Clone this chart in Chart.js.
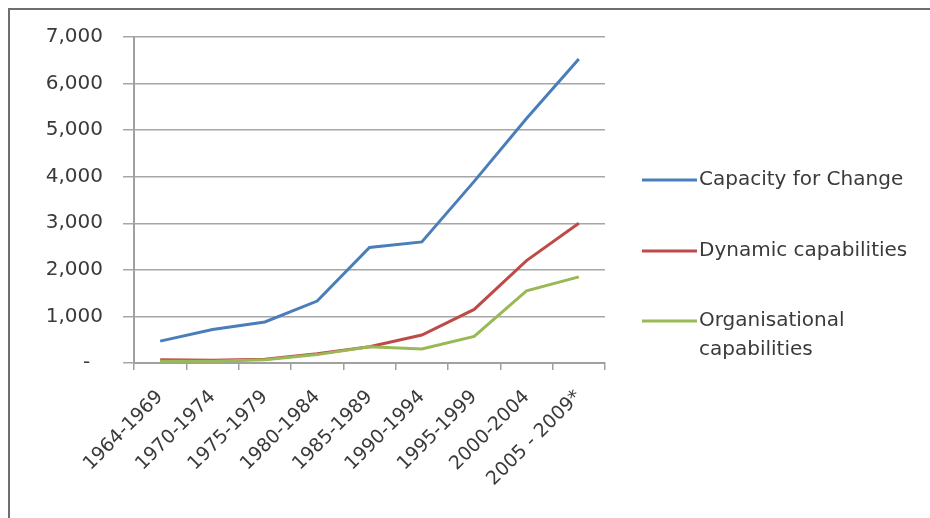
<!DOCTYPE html>
<html>
<head>
<meta charset="utf-8">
<script src="https://cdn.jsdelivr.net/npm/chart.js@4.4.1/dist/chart.umd.min.js"></script>
<style>
  html, body { margin: 0; padding: 0; background: #fff; overflow: hidden; }
  canvas { display: block; }
</style>
</head>
<body>
<canvas id="lineChart" width="930" height="518"></canvas>
<script>
"use strict";

var periods = ['1964-1969', '1970-1974', '1975-1979', '1980-1984', '1985-1989',
	'1990-1994', '1995-1999', '2000-2004', '2005 - 2009*'];
var capacityForChange = [470, 720, 880, 1330, 2480, 2600, 3900, 5250, 6530];
var dynamicCapabilities = [70, 60, 80, 200, 350, 600, 1150, 2200, 3000];
var organisationalCapabilities = [40, 40, 70, 180, 350, 300, 570, 1550, 1850];
var yTicks = [0, 1000, 2000, 3000, 4000, 5000, 6000, 7000];

var seriesNames = ['Capacity for Change', 'Dynamic capabilities', ['Organisational', 'capabilities']];
var lineColors = ['#4a7ebb', '#be4b48', '#98b954'];

var fontFamily = "'DejaVu Sans', 'Open Sans', sans-serif";
var textColor = '#3a3a3a';

// white page + the top/left edge of the pasted picture frame
var pageFrame = {
	id: 'pageFrame',
	beforeDraw: function (chart) {
		var ctx = chart.ctx;
		ctx.save();
		ctx.fillStyle = '#fff';
		ctx.fillRect(0, 0, chart.width, chart.height);
		ctx.strokeStyle = '#6e6e6e';
		ctx.lineWidth = 2;
		ctx.beginPath();
		ctx.moveTo(9, chart.height);
		ctx.lineTo(9, 9);
		ctx.lineTo(chart.width, 9);
		ctx.stroke();
		ctx.restore();
	}
};

// legend drawn by hand, Excel style
var sideLegend = {
	id: 'sideLegend',
	afterDraw: function (chart) {
		var ctx = chart.ctx;
		var rows = [180, 251, 321];
		ctx.save();
		ctx.font = '20px ' + fontFamily;
		ctx.textBaseline = 'middle';
		chart.data.datasets.forEach(function (ds, i) {
			var y = rows[i];
			ctx.strokeStyle = ds.borderColor;
			ctx.lineWidth = 3;
			ctx.beginPath();
			ctx.moveTo(642, y);
			ctx.lineTo(697, y);
			ctx.stroke();
			ctx.fillStyle = textColor;
			var lines = Array.isArray(ds.label) ? ds.label : [ds.label];
			lines.forEach(function (t, k) {
				ctx.fillText(t, 699, y + k * 29);
			});
		});
		ctx.restore();
	}
};

var datasets = [capacityForChange, dynamicCapabilities, organisationalCapabilities].map(function (vals, i) {
	return {
		label: seriesNames[i],
		data: vals,
		borderColor: lineColors[i],
		backgroundColor: lineColors[i],
		borderWidth: 3,
		pointRadius: 0,
		tension: 0,
		order: 3 - i
	};
});

const context = document.getElementById('lineChart');
const myChart = new Chart(context, {
	type: 'line',
	data: { labels: periods, datasets: datasets },
	plugins: [pageFrame, sideLegend],
	options: {
		responsive: false,
		animation: false,
		layout: { padding: { left: 0, right: 325, top: 37, bottom: 0 } },
		plugins: {
			legend: { display: false },
			tooltip: { enabled: false }
		},
		scales: {
			x: {
				offset: true,
				grid: { display: true, drawOnChartArea: false, offset: true, color: '#a0a0a0', tickLength: 7, lineWidth: 1.5 },
				border: { color: '#a0a0a0', width: 2 },
				ticks: {
					color: textColor,
					font: { family: fontFamily, size: 19 },
					maxRotation: 45, minRotation: 45,
					padding: 16
				},
				afterFit: function (scale) { scale.height = 518 - 363; }
			},
			y: {
				min: 0, max: 7000,
				afterBuildTicks: function (scale) {
					scale.ticks = yTicks.map(function (v) { return { value: v }; });
				},
				grid: { color: '#a6a6a6', lineWidth: 1.5, tickLength: 11 },
				border: { color: '#a0a0a0', width: 2 },
				ticks: {
					color: textColor,
					font: { family: fontFamily, size: 20 },
					padding: 20,
					callback: function (v) { return v === 0 ? '-  ' : v.toLocaleString('en-US'); }
				},
				afterFit: function (scale) { scale.width = 134; }
			}
		}
	}
});
</script>
</body>
</html>
